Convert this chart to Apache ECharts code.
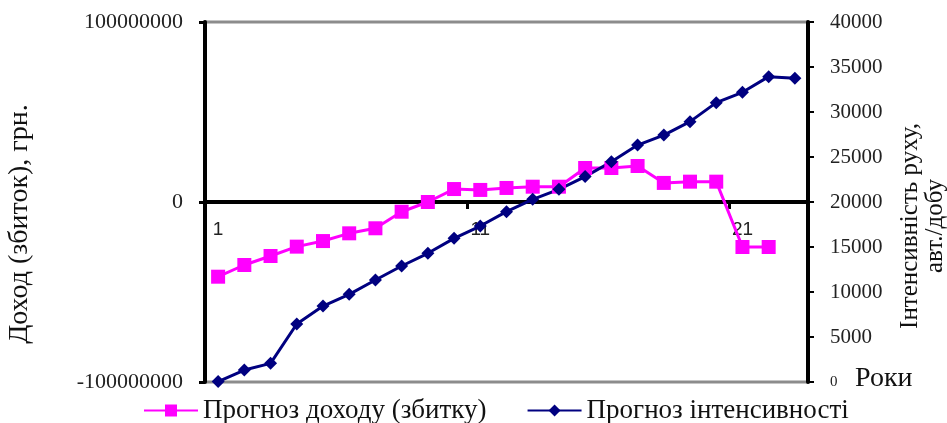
<!DOCTYPE html>
<html><head><meta charset="utf-8">
<script src="https://cdn.jsdelivr.net/npm/echarts@6/dist/echarts.min.js"></script>
<style>html,body{margin:0;padding:0;background:#fff}#c{width:947px;height:423px}</style>
</head><body><div id="c"></div>
<script>
var years = ['1','2','3','4','5','6','7','8','9','10','11','12','13','14','15','16','17','18','19','20','21','22','23'];
var incomeName = 'Прогноз доходу (збитку)';
var intensityName = 'Прогноз інтенсивності';
var income = [-41500000,-35000000,-30000000,-24800000,-21700000,-17400000,-14600000,-5400000,0,7200000,6700000,7800000,8500000,8500000,18900000,18900000,20000000,10600000,11300000,11300000,-25000000,-25000000];
var intensity = [50,1330,2070,6440,8440,9740,11330,12890,14300,15960,17330,18930,20300,21410,22820,24480,26330,27440,28930,31040,32190,33930,33740];
var leftTicks = [-100000000,0,100000000];
var rightTicks = [0,5000,10000,15000,20000,25000,30000,35000,40000];

var serif = '"Liberation Serif","Times New Roman",serif';
var gridTop = 22, gridBottom = 41, chartH = 423;
var plotH = chartH - gridTop - gridBottom;
var chart = echarts.init(document.getElementById('c'));
chart.setOption({
  backgroundColor:'#fff',
  animation:false,
  grid:{left:205,right:139,top:gridTop,bottom:gridBottom,containLabel:false,outerBoundsMode:'none',
    show:true,borderColor:'#8c8c8c',borderWidth:3,backgroundColor:'transparent'},
  legend:{
    left:138, top:392, itemGap:40, itemWidth:54, itemHeight:15,
    textStyle:{fontFamily:serif,fontSize:27,color:'#111'},
    data:[incomeName,intensityName]
  },
  xAxis:{
    type:'category', data:years, boundaryGap:true, position:'bottom', offset:-plotH/2,
    axisLine:{onZero:false,lineStyle:{color:'#000',width:4}},
    axisTick:{show:true,length:7,lineStyle:{color:'#000',width:3},interval:function(i){return i===10||i===20;}},
    axisLabel:{interval:9,margin:18,fontFamily:'"Liberation Sans",Arial,sans-serif',fontSize:19,color:'#222'},
    splitLine:{show:false}
  },
  yAxis:[{
    type:'value', min:leftTicks[0], max:leftTicks[2], interval:100000000, position:'left',
    name:'Доход (збиток), грн.', nameLocation:'middle', nameGap:171, nameRotate:90,
    nameTextStyle:{fontFamily:serif,fontSize:28,color:'#111',padding:[0,44,0,0]},
    axisLine:{show:true,lineStyle:{color:'#000',width:4}},
    axisTick:{show:true,length:6,lineStyle:{color:'#000',width:3}},
    axisLabel:{margin:22,fontFamily:serif,fontSize:22,color:'#222',formatter:function(v){return String(v);}},
    splitLine:{show:false}
  },{
    type:'value', min:rightTicks[0], max:rightTicks[rightTicks.length-1], interval:5000, position:'right',
    name:'Інтенсивність руху,\nавт./добу', nameLocation:'middle', nameGap:90, nameRotate:90,
    nameTextStyle:{fontFamily:serif,fontSize:25,color:'#111',lineHeight:25,padding:[0,48,0,0]},
    axisLine:{show:true,lineStyle:{color:'#000',width:4}},
    axisTick:{show:true,length:6,lineStyle:{color:'#000',width:2}},
    axisLabel:{margin:22,fontFamily:serif,fontSize:21,color:'#222',
      formatter:function(v){return v===0?'{s|0}':String(v);},
      rich:{s:{fontFamily:serif,fontSize:15,color:'#222'}}},
    splitLine:{show:false}
  }],
  graphic:[{type:'text',left:855,top:365,style:{text:'Роки',font:'28px '+serif,fill:'#111'}}],
  series:[{
    name:incomeName, type:'line', yAxisIndex:0, data:income,
    symbol:'rect', symbolSize:14, itemStyle:{color:'#ff00ff'}, lineStyle:{color:'#ff00ff',width:3}
  },{
    name:intensityName, type:'line', yAxisIndex:1, data:intensity,
    symbol:'diamond', symbolSize:13, itemStyle:{color:'#000080'}, lineStyle:{color:'#000080',width:3}
  }]
});
</script></body></html>
